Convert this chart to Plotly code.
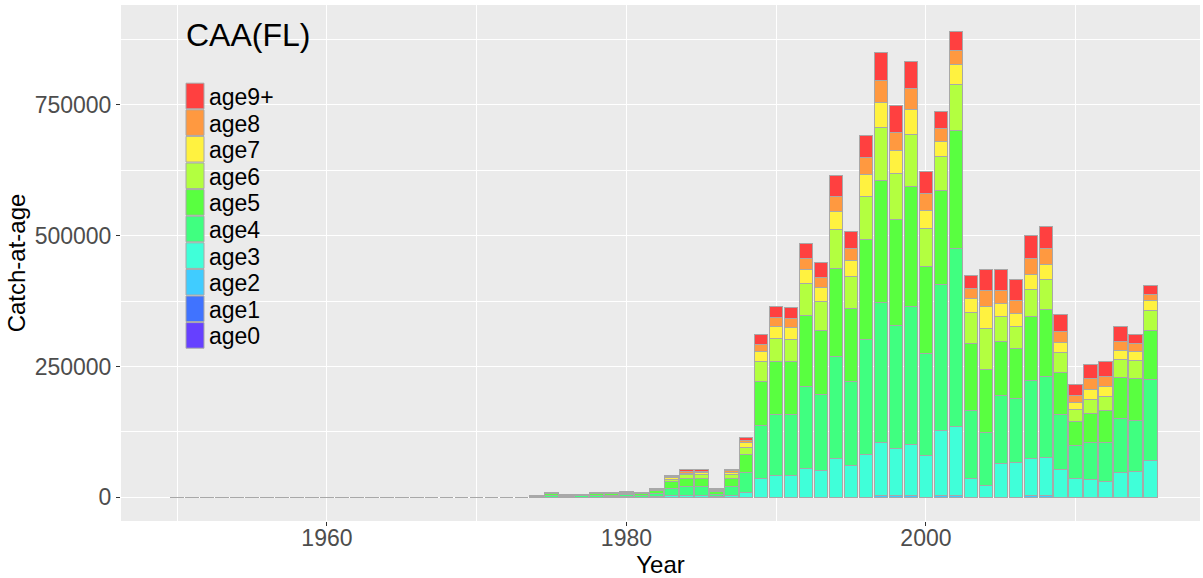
import plotly.graph_objects as go

# Catch-at-age by year, fleet FL (numbers of fish)
years = list(range(1950, 2016))

age_labels = ["age0", "age1", "age2", "age3", "age4", "age5",
              "age6", "age7", "age8", "age9+"]

# 1950-1973: no catch recorded
age0 = [0] * 66
age1 = [0] * 66
age2 = [0] * 24 + [
    0, 0, 0, 0, 0, 0, 0, 0, 0, 0, 0, 0, 0, 0,
    0, 0, 0, 0, 0, 0, 0, 0, 0,
    3000, 2500, 2500, 0, 2500, 2500,
    0, 0, 0, 0, 3000, 3000, 0, 0, 0, 0, 0, 0, 0]
age3 = [0] * 24 + [
    0, 500, 300, 300, 500, 600, 800, 500, 1000, 2500, 2500, 2500, 800, 2500,
    8800, 35300, 41600, 41600, 55000, 51100, 74000, 60700, 82400,
    101600, 90600, 98200, 79200, 125700, 133300,
    35300, 22500, 63900, 65800, 71800, 73700, 53800, 35300, 34000, 30100, 47300, 49200, 69600]
age4 = [0] * 24 + [
    1500, 3000, 2000, 2200, 3200, 3000, 3800, 3200, 7000, 13400, 19100, 19100, 5500, 17800,
    39000, 101100, 116400, 116400, 157700, 145800, 196000, 160300, 219400,
    267800, 235500, 264700, 195200, 278600, 339700,
    130300, 100600, 130300, 122100, 148100, 155100, 103600, 63000, 71300, 75200, 103800, 98100, 155900]
age5 = [0] * 24 + [
    1500, 3000, 2000, 1800, 2800, 3000, 3600, 2900, 5500, 13900, 14700, 14700, 5000, 15300,
    33600, 84600, 102400, 101100, 135500, 122700, 167300, 140000, 191400,
    232800, 202200, 228400, 166000, 179900, 225700,
    128600, 122100, 103800, 96100, 122100, 127300, 80700, 46300, 55400, 61100, 77500, 79400, 92800]
age6 = [0] * 24 + [
    700, 1200, 800, 800, 1200, 1200, 1400, 1200, 2000, 4600, 6900, 6900, 2300, 8900,
    14100, 39400, 43300, 43300, 60500, 54000, 74400, 60300, 82600,
    101100, 88200, 99200, 73200, 65500, 87800,
    59100, 76900, 47000, 41900, 52200, 57200, 38200, 22400, 26700, 25900, 35100, 34300, 38100]
age7 = [0] * 24 + [
    400, 600, 300, 300, 600, 500, 600, 500, 900, 3800, 3200, 3500, 1100, 3300,
    8800, 17800, 22200, 21600, 26700, 26700, 34900, 30700, 40900,
    48900, 43400, 48800, 34400, 28600, 38700,
    26700, 43300, 25500, 25500, 28700, 28700, 19100, 13900, 17700, 19100, 17200, 18000, 19100]
age8 = [0] * 24 + [
    200, 300, 200, 200, 300, 300, 300, 300, 500, 2500, 3300, 3300, 700, 3100,
    5200, 14100, 17900, 17200, 21600, 19800, 29200, 23500, 33000,
    40800, 35000, 39000, 33000, 23600, 26100,
    19100, 30500, 25400, 25400, 30500, 30500, 22300, 13300, 21600, 20400, 17100, 14500, 12200]
age9 = [0] * 24 + [
    100, 200, 100, 100, 200, 200, 200, 200, 300, 1900, 3800, 3500, 500, 2600,
    5200, 19100, 21600, 22300, 29000, 27900, 38900, 33000, 41400,
    54000, 50900, 52600, 42000, 32500, 36900,
    25400, 39500, 39500, 39500, 43100, 42500, 32400, 20500, 27400, 28600, 27900, 17900, 17200]

series = [age0, age1, age2, age3, age4, age5, age6, age7, age8, age9]

# rainbow palette, violet (age0) through red (age9+)
colors = ["#6640FF", "#4073FF", "#40CCFF", "#40FFD9", "#40FF80",
          "#59FF40", "#B3FF40", "#FFF240", "#FF9940", "#FF4040"]

OUTLINE = "#A8A8A8"
FONT = "Liberation Sans, Arial, sans-serif"

W, H = 1203, 578
ML, MR, MT, MB = 121, 3, 5, 57

fig = go.Figure()
for name, vals, col in zip(age_labels, series, colors):
    fig.add_trace(go.Bar(
        x=years, y=vals, name=name,
        marker=dict(color=col, line=dict(color=OUTLINE, width=1)),
        showlegend=False,
    ))


def px_x(px):
    return (px - ML) / (W - ML - MR)


def px_y(py):
    return (H - MB - py) / (H - MT - MB)


# legend drawn inside the panel, top entry = oldest age group
shapes = []
annotations = []
key_left, key_right = 186, 204
row_top0, row_h = 82.7, 26.6
for i, (name, col) in enumerate(reversed(list(zip(age_labels, colors)))):
    top = row_top0 + i * row_h
    shapes.append(dict(
        type="rect", xref="paper", yref="paper",
        x0=px_x(key_left), x1=px_x(key_right),
        y0=px_y(top + row_h - 0.5), y1=px_y(top + 0.5),
        fillcolor=col, line=dict(color=OUTLINE, width=1), layer="above",
    ))
    annotations.append(dict(
        text=name, xref="paper", yref="paper",
        x=px_x(207), y=px_y(top + row_h / 2 + 1),
        xanchor="left", yanchor="middle", showarrow=False,
        font=dict(family=FONT, size=23, color="black"),
    ))
annotations.append(dict(
    text="CAA(FL)", xref="paper", yref="paper",
    x=px_x(184), y=px_y(35), xanchor="left", yanchor="middle",
    showarrow=False, font=dict(family=FONT, size=32, color="black"),
))

fig.update_layout(
    width=W, height=H,
    margin=dict(l=ML, r=MR, t=MT, b=MB, pad=0),
    barmode="stack", bargap=0.1,
    paper_bgcolor="white", plot_bgcolor="#EBEBEB",
    font=dict(family=FONT),
    shapes=shapes, annotations=annotations,
    showlegend=False,
)

fig.update_xaxes(
    range=[1946.25, 2018.3], tick0=1960, dtick=20,
    showgrid=True, gridcolor="white", gridwidth=1.4, zeroline=False,
    minor=dict(dtick=10, tick0=1950, showgrid=True, gridcolor="white", gridwidth=0.7),
    ticks="outside", ticklen=4, tickwidth=1, tickcolor="#333333",
    ticklabelstandoff=-8,
    tickfont=dict(family=FONT, size=23, color="#4D4D4D"),
    title=dict(text="Year", font=dict(family=FONT, size=24, color="black"), standoff=4),
    automargin=False, showline=False,
)
fig.update_yaxes(
    range=[-45300, 940900], tick0=0, dtick=250000, tickformat="d",
    showgrid=True, gridcolor="white", gridwidth=1.4, zeroline=False,
    minor=dict(dtick=125000, tick0=0, showgrid=True, gridcolor="white", gridwidth=0.7),
    ticks="outside", ticklen=4, tickwidth=1, tickcolor="#333333",
    tickfont=dict(family=FONT, size=23, color="#4D4D4D"),
    title=dict(text="Catch-at-age", font=dict(family=FONT, size=24, color="black"), standoff=2),
    automargin=False, showline=False,
)

fig.write_html("out.html")
